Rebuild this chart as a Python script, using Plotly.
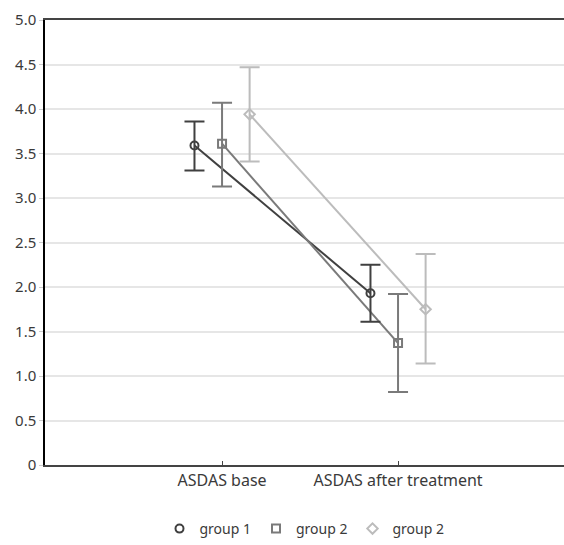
import plotly.graph_objects as go

categories = ["ASDAS base", "ASDAS after treatment"]
group_names = ["group 1", "group 2", "group 2"]
means = [[3.59, 1.93], [3.61, 1.37], [3.94, 1.75]]
upper = [[3.86, 2.25], [4.07, 1.92], [4.47, 2.37]]
lower = [[3.31, 1.61], [3.13, 0.82], [3.41, 1.14]]
colors = ["#404040", "#7a7a7a", "#bcbcbc"]
symbols = ["circle-open", "square-open", "diamond-open"]
y_ticks = [0, 0.5, 1.0, 1.5, 2.0, 2.5, 3.0, 3.5, 4.0, 4.5, 5.0]
y_tick_text = ["0", "0.5", "1.0", "1.5", "2.0", "2.5", "3.0", "3.5", "4.0", "4.5", "5.0"]

fig = go.Figure()
for i in range(3):
    fig.add_trace(go.Scatter(
        x=categories, y=means[i], name=group_names[i],
        mode="lines", offsetgroup=str(i), showlegend=False, hoverinfo="skip",
        line=dict(color=colors[i], width=2),
    ))
for i in range(3):
    err_plus = [u - m for u, m in zip(upper[i], means[i])]
    err_minus = [m - l for m, l in zip(means[i], lower[i])]
    fig.add_trace(go.Scatter(
        x=categories, y=means[i], name=group_names[i],
        mode="markers", offsetgroup=str(i),
        marker=dict(symbol=symbols[i], size=8, color=colors[i], line=dict(width=2, color=colors[i])),
        error_y=dict(type="data", symmetric=False, array=err_plus, arrayminus=err_minus,
                     color=colors[i], thickness=2, width=10),
    ))

fig.update_layout(
    width=564, height=545,
    margin=dict(l=45, r=0, t=20, b=78),
    plot_bgcolor="white", paper_bgcolor="white",
    font=dict(family="Noto Sans, Open Sans, sans-serif", size=14, color="#3a3a3a"),
    scattermode="group", scattergap=0.53,
    showlegend=True,
    legend=dict(orientation="h", x=0.5, xanchor="center", y=-0.108, yanchor="top",
                font=dict(size=14), itemwidth=30, tracegroupgap=0),
    xaxis=dict(type="category", range=[-1.006, 1.943], showgrid=False,
               showline=True, linecolor="#444444", linewidth=2, mirror=True,
               ticks="inside", ticklen=4, tickcolor="#444444", zeroline=False,
               tickfont=dict(size=16)),
    yaxis=dict(range=[0, 5.0], tickvals=y_ticks, ticktext=y_tick_text,
               showgrid=True, gridcolor="#e6e6e6", gridwidth=1.5,
               showline=True, linecolor="#000000", linewidth=1.5,
               ticks="outside", ticklen=4, tickcolor="#cccccc", zeroline=False,
               tickfont=dict(size=15)),
)

fig.write_html("out.html", config={"displayModeBar": False},
               post_script="document.body.style.margin='0';")
